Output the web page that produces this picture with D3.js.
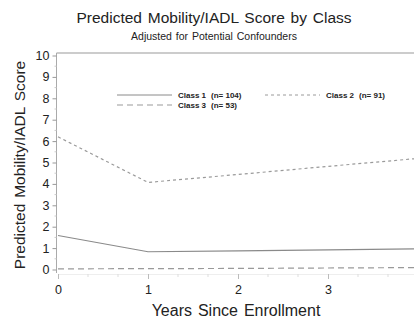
<!DOCTYPE html>
<html>
<head>
<meta charset="utf-8">
<script src="https://cdn.jsdelivr.net/npm/d3@7"></script>
<style>
  body { margin: 0; background: #fff; }
  text { font-family: "Liberation Sans", Arial, sans-serif; }
</style>
</head>
<body>
<svg width="414" height="327"></svg>
<script>
// data
var years = [0, 1, 2, 3, 4];
var class1 = [1.59, 0.83, 0.87, 0.92, 0.97];
var class2 = [6.2, 4.07, 4.44, 4.82, 5.19];
var class3 = [0.03, 0.04, 0.05, 0.07, 0.09];
var seriesNames = ["Class 1", "Class 2", "Class 3"];
var seriesN = ["(n= 104)", "(n= 91)", "(n= 53)"];
var yTicks = [0, 1, 2, 3, 4, 5, 6, 7, 8, 9, 10];

var svg = d3.select("svg"),
    width = +svg.attr("width"),
    height = +svg.attr("height");

var x = d3.scaleLinear().domain([0, 4]).range([58, 418]);
var y = d3.scaleLinear().domain([0, 10]).range([269.5, 55.5]);

// titles
svg.append("text").attr("x", 214).attr("y", 23).attr("text-anchor", "middle")
  .attr("font-size", 15.5).attr("word-spacing", 1.5).attr("fill", "#222").text("Predicted Mobility/IADL Score by Class");
svg.append("text").attr("x", 214).attr("y", 40).attr("text-anchor", "middle")
  .attr("font-size", 10.5).attr("word-spacing", 1).attr("fill", "#222").text("Adjusted for Potential Confounders");

// frame: top line and left axis
svg.append("line").attr("x1", 56.5).attr("x2", 414).attr("y1", 53).attr("y2", 53)
  .attr("stroke", "#bbb").attr("stroke-width", 1.5);
svg.append("line").attr("x1", 56.5).attr("x2", 56.5).attr("y1", 53).attr("y2", 273)
  .attr("stroke", "#aaa").attr("stroke-width", 1);
// faint bottom axis
svg.append("line").attr("x1", 58).attr("x2", 414).attr("y1", 274.5).attr("y2", 274.5)
  .attr("stroke", "#eee").attr("stroke-width", 1);

// y axis
var yAxis = d3.axisLeft(y).tickValues(yTicks).tickSize(4).tickPadding(3).tickFormat(d3.format("d"));
var gy = svg.append("g").attr("transform", "translate(56.5,0)").call(yAxis);
gy.select(".domain").remove();
gy.selectAll("line").attr("stroke", "#999");
gy.selectAll("text").attr("font-size", 12.5).attr("fill", "#222");

// y minor ticks
svg.append("g").selectAll("line").data(d3.range(0.5, 10, 1)).enter().append("line")
  .attr("x1", 54.5).attr("x2", 56.5)
  .attr("y1", function (d) { return y(d); }).attr("y2", function (d) { return y(d); })
  .attr("stroke", "#ccc");

// x axis
var xAxis = d3.axisBottom(x).tickValues(years).tickSize(5).tickPadding(6).tickFormat(d3.format("d"));
var gx = svg.append("g").attr("transform", "translate(0,274)").call(xAxis);
gx.select(".domain").remove();
gx.selectAll("line").attr("stroke", "#bbb");
gx.selectAll("text").attr("font-size", 12.5).attr("fill", "#222");

// x minor ticks at thirds
var minors = [];
for (var i = 0; i < 4; i++) { minors.push(i + 1 / 3, i + 2 / 3); }
svg.append("g").selectAll("line").data(minors).enter().append("line")
  .attr("x1", function (d) { return x(d); }).attr("x2", function (d) { return x(d); })
  .attr("y1", 274).attr("y2", 277).attr("stroke", "#ddd");

// axis labels
svg.append("text").attr("x", 236).attr("y", 316).attr("text-anchor", "middle")
  .attr("font-size", 16).attr("word-spacing", 1.5).attr("fill", "#222").text("Years Since Enrollment");
svg.append("text").attr("transform", "translate(25,165) rotate(-90)").attr("text-anchor", "middle")
  .attr("font-size", 15.5).attr("word-spacing", 1.5).attr("fill", "#222").text("Predicted Mobility/IADL Score");

// lines
var styles = [
  { color: "#8a8a8a", dash: null, width: 1.2 },
  { color: "#9a9a9a", dash: "3,3", width: 1.2 },
  { color: "#999", dash: "6,4", width: 1.2 }
];
var allSeries = [class1, class2, class3];
var line = d3.line()
  .x(function (d, i) { return x(years[i]); })
  .y(function (d) { return y(d); });

var plot = svg.append("g");
plot.append("clipPath").attr("id", "clip").append("rect")
  .attr("x", 57).attr("y", 53).attr("width", 357).attr("height", 220);
plot.attr("clip-path", "url(#clip)");
allSeries.forEach(function (s, k) {
  plot.append("path").datum(s)
    .attr("d", line)
    .attr("fill", "none")
    .attr("stroke", styles[k].color)
    .attr("stroke-width", styles[k].width)
    .attr("stroke-dasharray", styles[k].dash);
});

// legend
var legPos = [[117, 95], [265, 95], [117, 105]];
seriesNames.forEach(function (name, k) {
  var lx = legPos[k][0], ly = legPos[k][1];
  svg.append("line").attr("x1", lx).attr("x2", lx + 55).attr("y1", ly).attr("y2", ly)
    .attr("stroke", styles[k].color).attr("stroke-width", 1)
    .attr("stroke-dasharray", styles[k].dash);
  svg.append("text").attr("x", lx + 61).attr("y", ly + 3).attr("font-size", 8)
    .attr("font-weight", "bold").attr("fill", "#222").text(name);
  svg.append("text").attr("x", lx + 94).attr("y", ly + 3).attr("font-size", 8)
    .attr("font-weight", "bold").attr("fill", "#222").text(seriesN[k]);
});
</script>
</body>
</html>
